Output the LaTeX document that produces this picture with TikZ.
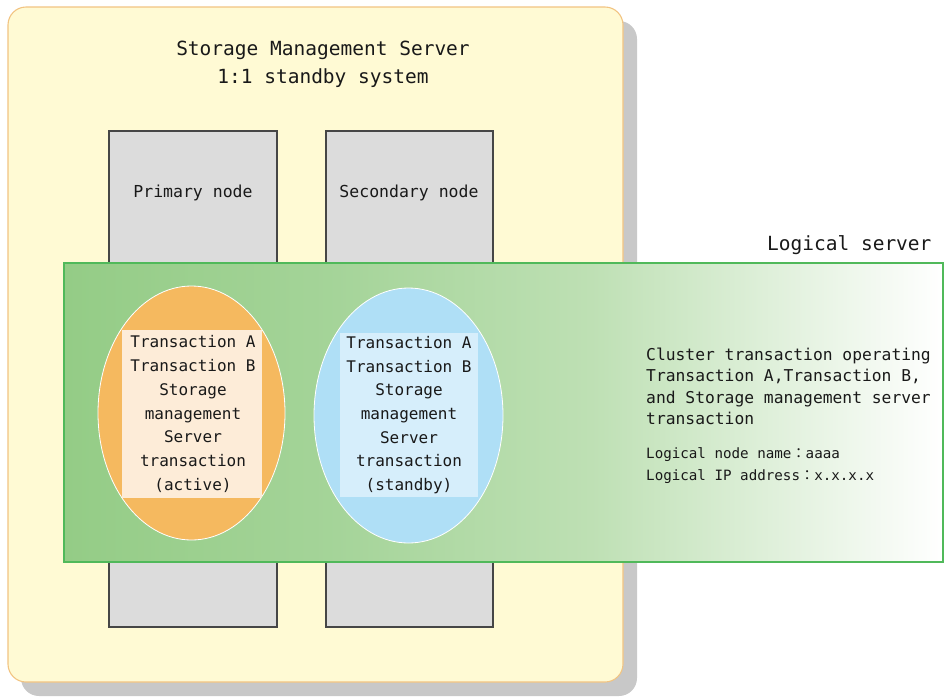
\documentclass[tikz,border=0pt]{standalone}
\usepackage{fontspec}
\setmonofont{DejaVu Sans Mono}
\newfontfamily\cjkjp{Noto Sans CJK JP}
\usetikzlibrary{shapes.geometric}
\definecolor{yfill}{RGB}{255,250,212}
\definecolor{ybord}{RGB}{242,196,130}
\definecolor{shadowgray}{RGB}{200,200,200}
\definecolor{hostgray}{RGB}{220,220,220}
\definecolor{hostbord}{RGB}{70,70,70}
\definecolor{gA}{RGB}{148,204,134}
\definecolor{gB}{RGB}{190,224,180}
\definecolor{gbord}{RGB}{80,185,90}
\definecolor{ofill}{RGB}{245,185,95}
\definecolor{oin}{RGB}{253,236,216}
\definecolor{bfill}{RGB}{175,223,246}
\definecolor{bin}{RGB}{214,238,251}
\definecolor{txt}{RGB}{25,25,25}
\pgfdeclarehorizontalshading{lsgrad}{100bp}{color(0bp)=(gA); color(25bp)=(gA); color(40bp)=(gA!85!white); color(55bp)=(gB); color(75bp)=(white); color(100bp)=(white)}
\begin{document}
\begin{tikzpicture}[x=1pt,y=-1pt,
  every node/.style={font=\ttfamily, text=txt},
  boxnode/.style={inner sep=0pt, outer sep=0pt, anchor=north west},
  serverbox/.style={boxnode, draw=ybord, fill=yfill, rounded corners=18pt, line width=1.1pt},
  shadowbox/.style={boxnode, fill=shadowgray, rounded corners=18pt},
  hostbox/.style={boxnode, draw=hostbord, fill=hostgray, line width=1.3pt},
  logbox/.style={boxnode, draw=gbord, shading=lsgrad, line width=1.2pt},
  txell/.style={ellipse, draw=white, line width=0.8pt, inner sep=0pt, outer sep=0pt},
  txin/.style={inner sep=0pt, outer sep=0pt, align=center, font=\ttfamily\fontsize{16}{23.7}\selectfont},
  titletxt/.style={align=center, font=\ttfamily\fontsize{19.5}{28}\selectfont},
  hosttxt/.style={font=\ttfamily\fontsize{16.5}{20}\selectfont},
  desctxt/.style={align=left, anchor=north west, inner sep=0pt, font=\ttfamily\fontsize{16.3}{21.3}\selectfont},
  smalltxt/.style={align=left, anchor=north west, inner sep=0pt, font=\ttfamily\fontsize{14.2}{22}\selectfont}
]
\useasboundingbox (0,0) rectangle (946,697);
\fill[white] (0,0) rectangle (946,697);
% server box with shadow
\node[shadowbox, minimum width=616pt, minimum height=675pt] (shadow) at (21,21) {};
\node[serverbox, minimum width=615pt, minimum height=675pt] (server) at (8,7) {};
\node[titletxt] (title) at (323,64) {Storage Management Server\\1:1 standby system};
% hosts
\node[hostbox, minimum width=168pt, minimum height=496pt] (prim) at (109,131) {};
\node[hostbox, minimum width=167pt, minimum height=496pt] (sec) at (326,131) {};
\node[hosttxt] (primlbl) at (193,193) {Primary node};
\node[hosttxt] (seclbl) at (409,193) {Secondary node};
% logical server
\node[logbox, minimum width=879pt, minimum height=299pt] (logical) at (64,263) {};
\node[font=\ttfamily\fontsize{19.5}{24}\selectfont, anchor=east] (loglbl) at (935,245) {Logical server};
% transactions
\node[txell, fill=ofill, minimum width=187pt, minimum height=254pt] (act) at (191.5,413) {};
\node[txin, fill=oin, minimum width=140pt, minimum height=168pt] (actin) at (192,414) {};
\node[txin] (acttxt) at (193,414) {Transaction A\\Transaction B\\Storage\\management\\Server\\transaction\\(active)};
\node[txell, fill=bfill, minimum width=189pt, minimum height=255pt] (stb) at (408.5,415.5) {};
\node[txin, fill=bin, minimum width=138pt, minimum height=164pt] (stbin) at (409,415) {};
\node[txin] (stbtxt) at (409,415) {Transaction A\\Transaction B\\Storage\\management\\Server\\transaction\\(standby)};
% description
\node[desctxt] (desc) at (646,348) {Cluster transaction operating\\Transaction A,Transaction B,\\and Storage management server\\transaction};
\node[smalltxt] (info) at (646,447) {Logical node name{\cjkjp ：}aaaa\\Logical IP address{\cjkjp ：}x.x.x.x};
\end{tikzpicture}
\end{document}
